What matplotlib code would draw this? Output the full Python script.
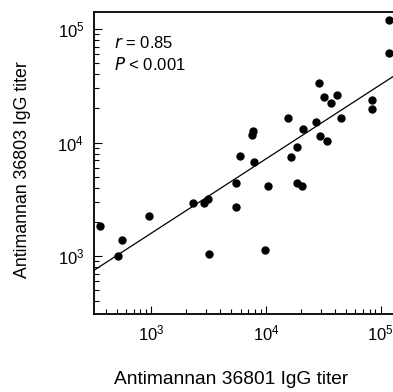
import numpy as np
import matplotlib
matplotlib.use("Agg")
import matplotlib.pyplot as plt
from matplotlib.ticker import LogLocator, NullFormatter

plt.rcParams['font.family'] = ['Liberation Sans', 'DejaVu Sans']

# antimannan IgG titers (36801 vs 36803)
titer_36801 = [355, 509, 556, 955, 2297, 2897, 3120, 3185, 5445, 5470, 5970,
               7850, 7655, 7500, 9800, 10400, 15630, 16400, 18540, 18540,
               20600, 20880, 27300, 28970, 29720, 32060, 34040, 37240,
               41590, 45400, 84540, 83550, 118000, 118000]
titer_36803 = [1850, 1000, 1375, 2250, 2950, 2910, 3160, 1048, 2718, 4425, 7656,
               6730, 12560, 11560, 1137, 4160, 16560, 7450, 9180, 4425,
               4160, 13060, 15170, 33250, 11480, 25000, 10250, 22430,
               26240, 16560, 23560, 19590, 120000, 61800]

# regression line in log10 space
fit_slope = 0.655
fit_intercept = 1.236

x_range = (316, 128000)
y_range = (308, 141000)

fig = plt.figure(figsize=(3.93, 3.92), dpi=100)
ax = fig.add_axes([0.239, 0.199, 0.761, 0.770])

ax.plot(titer_36801, titer_36803, 'o', color='black', markersize=5, zorder=3)

xs = np.array(x_range)
ax.plot(xs, 10 ** (fit_intercept + fit_slope * np.log10(xs)), color='black', lw=0.9)

ax.set_xscale('log')
ax.set_yscale('log')
ax.set_xlim(*x_range)
ax.set_ylim(*y_range)

ax.xaxis.set_minor_locator(LogLocator(base=10, subs=np.arange(2, 10)))
ax.yaxis.set_minor_locator(LogLocator(base=10, subs=np.arange(2, 10)))
ax.xaxis.set_minor_formatter(NullFormatter())
ax.yaxis.set_minor_formatter(NullFormatter())

ax.tick_params(which='both', direction='in', top=False, right=False, width=0.8,
               labelsize=12, colors='black')
ax.tick_params(which='major', length=6, pad=7)
ax.tick_params(which='minor', length=3.5)

ax.spines['right'].set_visible(False)
for s in ['left', 'bottom', 'top']:
    ax.spines[s].set_linewidth(1.3)

ax.set_xlabel('Antimannan 36801 IgG titer', fontsize=13.8)
ax.xaxis.set_label_coords(0.458, -0.19)
ax.set_ylabel('Antimannan 36803 IgG titer', fontsize=12.8)
ax.yaxis.set_label_coords(-0.212, 0.477)

ax.text(0.068, 0.898, r'$\it{r}$ = 0.85', transform=ax.transAxes, fontsize=12, va='center')
ax.text(0.068, 0.825, r'$\it{P}$ < 0.001', transform=ax.transAxes, fontsize=12, va='center')

fig.savefig('out.png', dpi=100)
